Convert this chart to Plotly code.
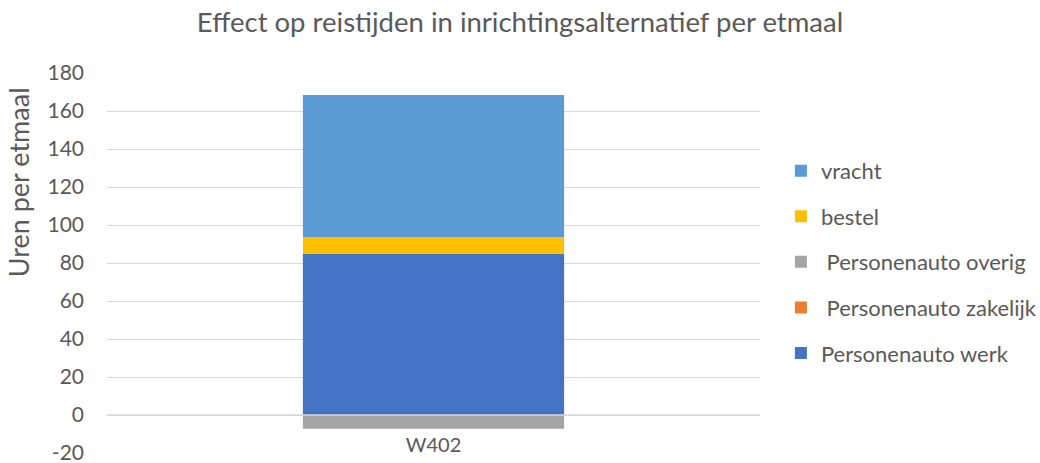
import plotly.graph_objects as go

# Travel-time effect per day, one scenario, stacked by vehicle category
categories = ["W402"]
personenauto_werk = [84.7]
personenauto_zakelijk = [0.0]
personenauto_overig = [-7.2]
bestel = [9.0]
vracht = [74.7]

# value axis ticks (plain hyphen for the negative label)
y_tickvals = [-20, 0, 20, 40, 60, 80, 100, 120, 140, 160, 180]
y_ticktext = ["-20", "0", "20", "40", "60", "80", "100", "120", "140", "160", "180"]

series = [
    ("Personenauto werk", personenauto_werk, "#4472C4"),
    (" Personenauto zakelijk", personenauto_zakelijk, "#ED7D31"),
    (" Personenauto overig", personenauto_overig, "#A5A5A5"),
    ("bestel", bestel, "#FFC000"),
    ("vracht", vracht, "#5B9BD5"),
]

FONT = "Lato, 'Open Sans', sans-serif"
TXT = "#595959"
GRID = "#D9D9D9"

fig = go.Figure()
n = len(series)
for i, (name, vals, color) in enumerate(series):
    fig.add_trace(go.Bar(
        x=categories, y=vals, name=name, marker_color=color,
        marker_line_width=0, legendgroup=f"g{i}", legendrank=n - i,
    ))

# baseline drawn over the stacked bars
fig.add_hline(y=0, line=dict(color=GRID, width=1.5), layer="above")

fig.update_layout(
    width=1040, height=463,
    barmode="relative", bargap=0.6,
    paper_bgcolor="white", plot_bgcolor="white",
    margin=dict(l=107, r=280, t=73, b=10, autoexpand=False),
    font=dict(family=FONT, color=TXT, size=21),
    title=dict(text="Effect op reistijden in inrichtingsalternatief per etmaal",
               x=0.5, xref="container", xanchor="center", y=0.952, yanchor="middle",
               font=dict(size=27.5, color=TXT, family=FONT)),
    legend=dict(x=1.032, xanchor="left", y=0.503, yanchor="middle",
                traceorder="grouped", tracegroupgap=14,
                font=dict(size=22, color=TXT, family=FONT),
                itemwidth=30),
    showlegend=True,
    annotations=[dict(text="Uren per etmaal", textangle=-90, showarrow=False,
                      xref="paper", yref="paper", x=-0.136, y=0.713,
                      xanchor="center", yanchor="middle",
                      font=dict(size=27, color=TXT, family=FONT))],
)
fig.update_yaxes(range=[-20, 180], tickmode="array", tickvals=y_tickvals,
                 ticktext=y_ticktext, showgrid=True, gridcolor=GRID,
                 gridwidth=1, zeroline=False,
                 showline=False, ticks="", tickfont=dict(size=21, color=TXT),
                 ticklabelstandoff=22, ticklabeloverflow="allow", automargin=False)
fig.update_xaxes(anchor="free", position=0.1, showline=False, ticks="",
                 showgrid=False, zeroline=False, ticklabelstandoff=16,
                 automargin=False, tickfont=dict(size=20, color=TXT))

fig.write_html("out.html")
